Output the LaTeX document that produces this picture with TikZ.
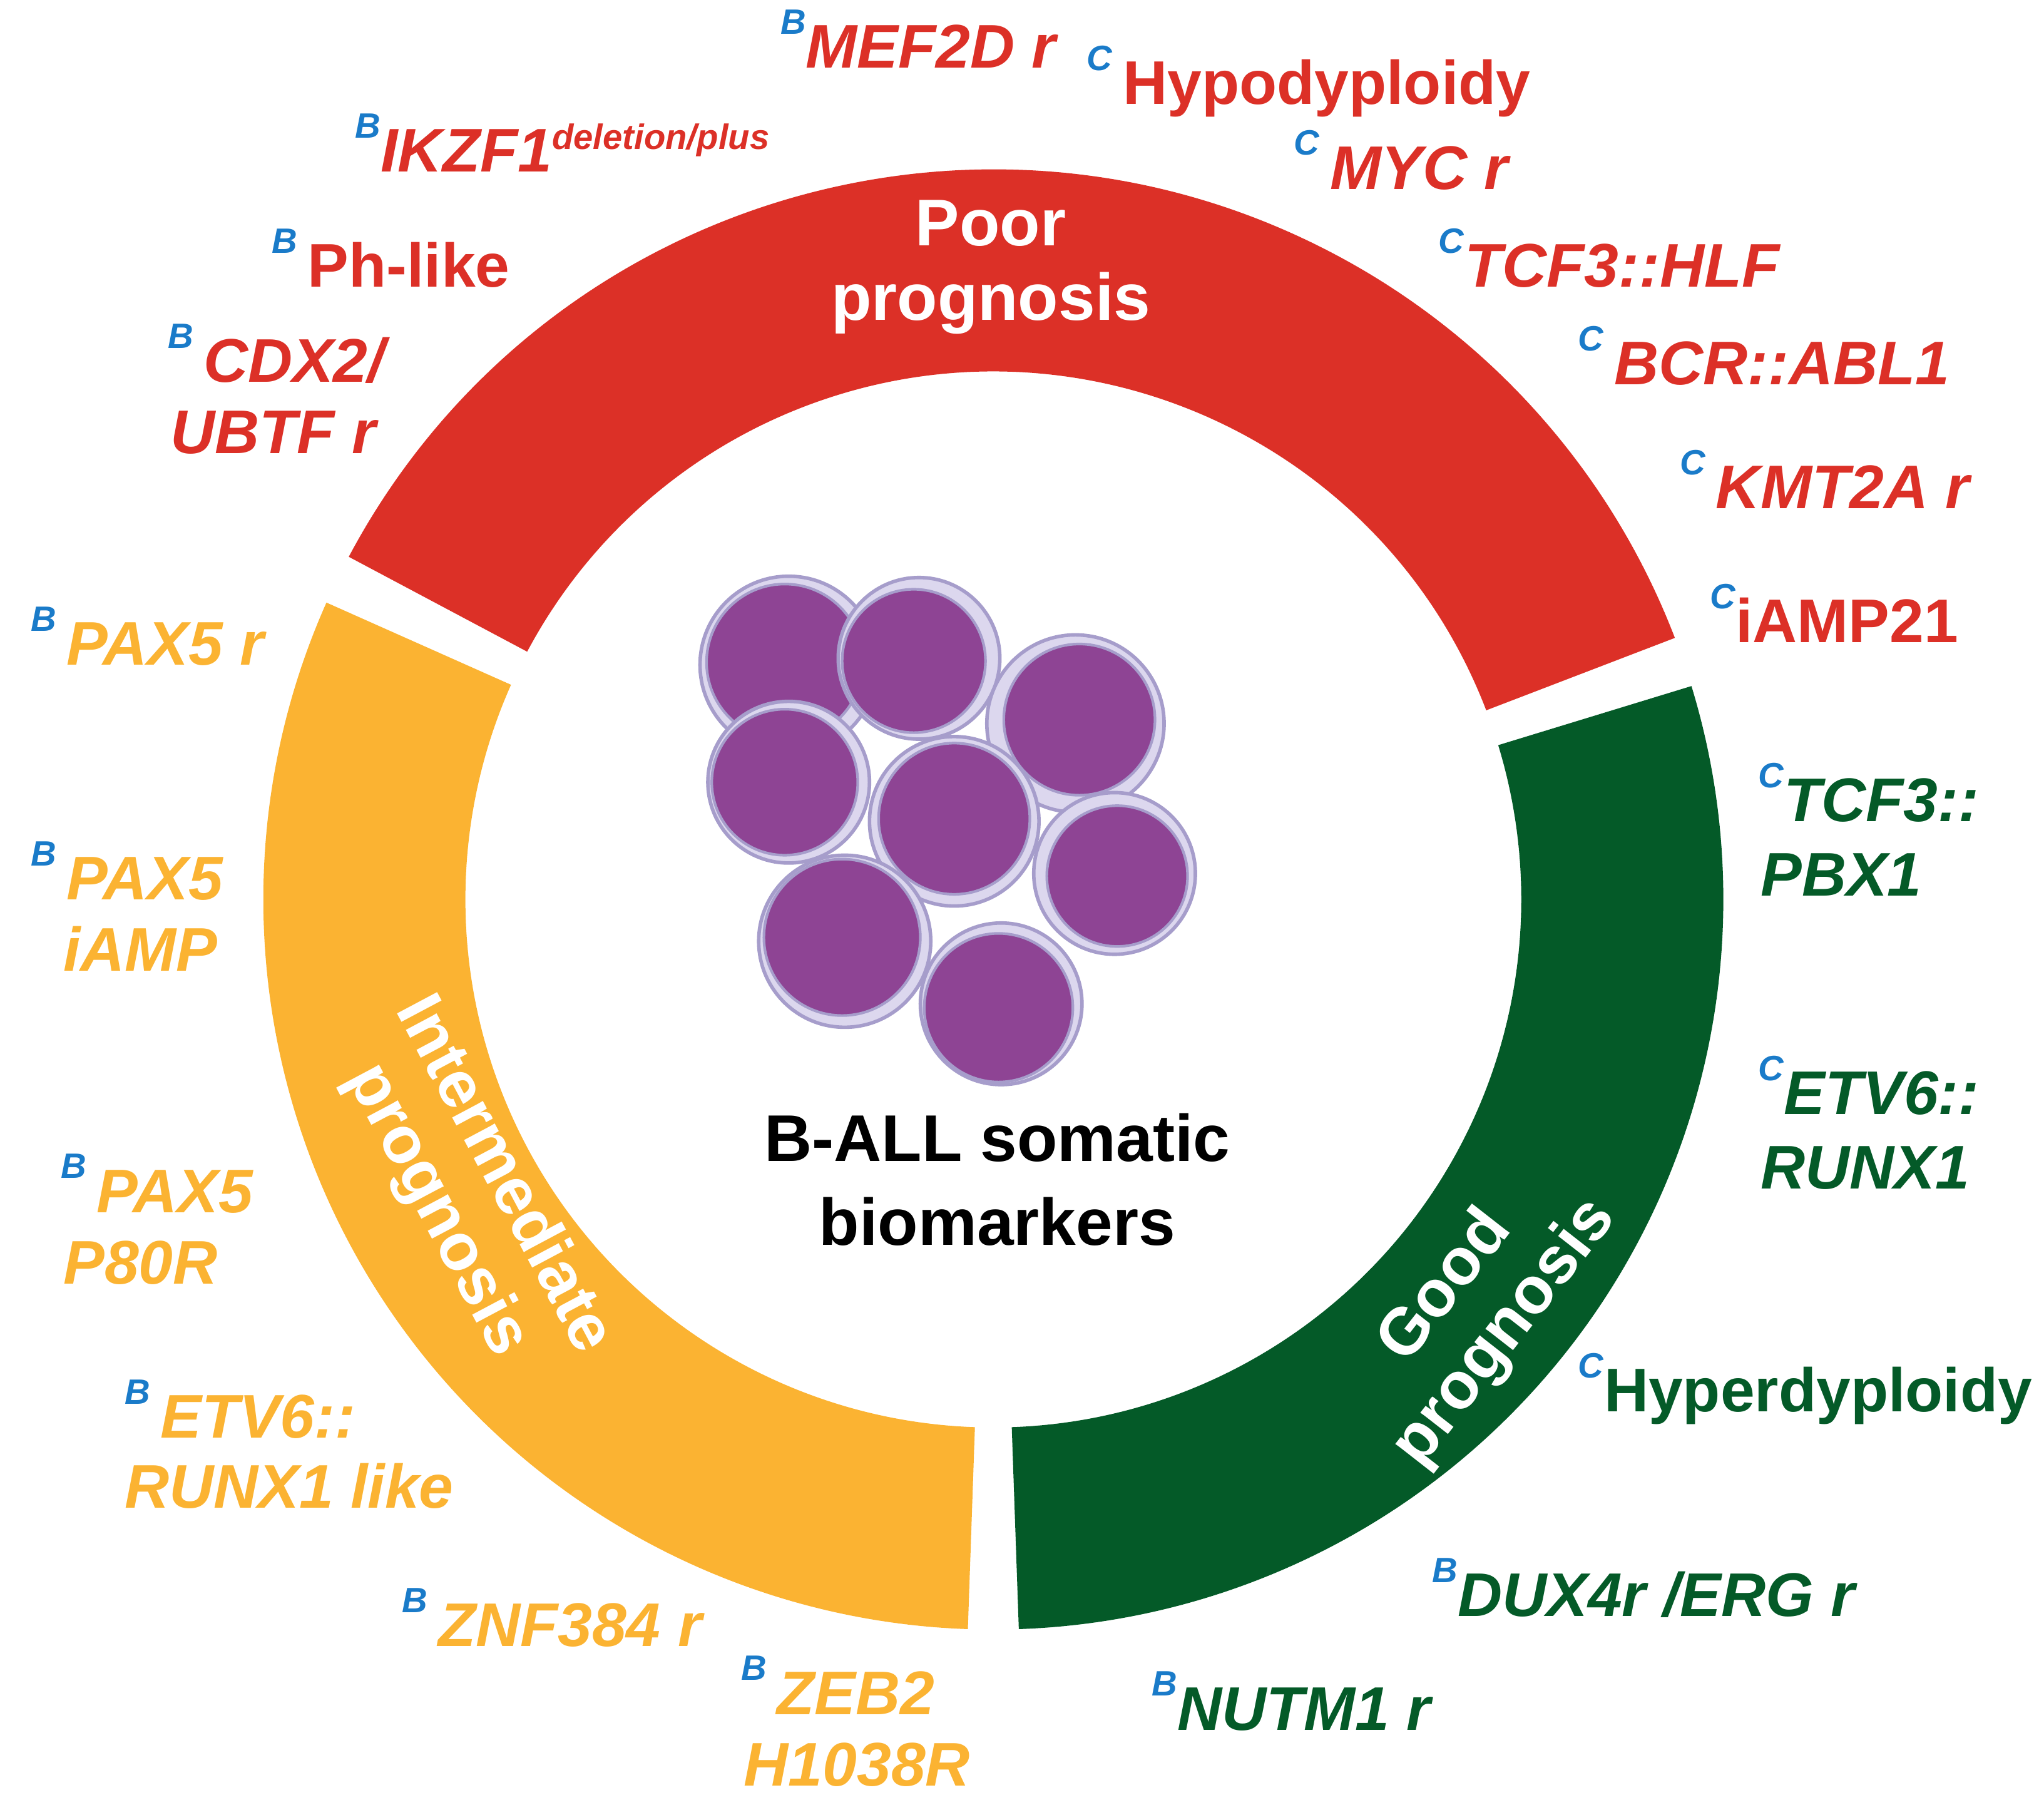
\documentclass[tikz,border=0pt]{standalone}
\usepackage{fontspec}
\setmainfont{Liberation Sans}
\usetikzlibrary{positioning}
\definecolor{poorred}{HTML}{DC3027}
\definecolor{midyel}{HTML}{FBB332}
\definecolor{goodgrn}{HTML}{045A28}
\definecolor{tagblue}{HTML}{1A7BC9}
\definecolor{nucl}{HTML}{8E4494}
\definecolor{halo}{HTML}{DCD7EE}
\definecolor{halodraw}{HTML}{A69DCB}
\newcommand{\tg}[1]{\raisebox{0.55em}{\textcolor{tagblue}{\fontsize{8}{8}\selectfont\textit{#1}}}}
\tikzset{
  lab/.style={anchor=base west,inner sep=0pt,font=\fontsize{14}{14}\selectfont\bfseries},
  cell/.style={fill=halo,draw=halodraw,line width=0.8pt},
  nucleus/.style={fill=nucl,draw=halodraw,line width=0.6pt},
}
\begin{document}
\begin{tikzpicture}[x=0.010414cm,y=-0.010414cm]
 \useasboundingbox (0,0) rectangle (1568,1392);

 % ring
 \begin{scope}[shift={(762,690)}]
  \fill[poorred] (-152:560) arc (-152:-21:560) -- (-21:405) arc (-21:-152:405) -- cycle;
  \fill[goodgrn] (-17:560) arc (-17:88:560) -- (88:405) arc (88:-17:405) -- cycle;
  \fill[midyel] (-156:560) arc (-156:-268:560) -- (-268:405) arc (-268:-156:405) -- cycle;
 \end{scope}

 \node[font=\fontsize{15}{17}\selectfont\bfseries,text=white,align=center] (poor) at (760,205) {Poor\\prognosis};
 \node[font=\fontsize{15}{17}\selectfont\bfseries,text=white,align=center,rotate=52] (good) at (1132,1005) {Good\\prognosis};
 \node[font=\fontsize{15}{17}\selectfont\bfseries,text=white,align=center,rotate=-62] (inter) at (360,915) {Intermediate\\prognosis};

 % cells
 \foreach \cx/\cy/\hr/\nr/\dx/\dy [count=\i] in
   {605/510/68/60/-3/-2, 705/505/62/55/-4/2, 825/555/68/58/3/-3, 605/600/62/56/-3/0,
    732/630/65/58/0/-2, 855/670/62/54/2/2, 648/722/66/60/-2/-3, 768/770/62/57/-2/3}
 {
  \fill[cell] (\cx,\cy) circle (\hr);
  \fill[nucleus] (\cx+\dx,\cy+\dy) circle (\nr);
 }
 \node[font=\fontsize{15}{19}\selectfont\bfseries,align=center] (title) at (765,905) {B-ALL somatic\\biomarkers};

 % poor
 \begin{scope}[every node/.append style={lab,text=poorred}]
  \node (mef)  at (598,52)  {\tg{B}\textit{MEF2D r}};
  \node (hypo) at (833,80)  {\tg{C}\,Hypodyploidy};
  \node (ikz)  at (272,132) {\tg{B}\textit{IKZF1}\textsuperscript{\fontsize{8}{8}\selectfont\textit{deletion/plus}}};
  \node (myc)  at (992,145) {\tg{C}\,\textit{MYC r}};
  \node (ph)   at (208,220) {\tg{B}\,Ph-like};
  \node (hlf)  at (1103,220){\tg{C}\textit{TCF3::HLF}};
  \node (cdx)  at (128,293) {\tg{B}\,\textit{CDX2/}};
  \node (ubtf) at (130,348) {\textit{UBTF r}};
  \node (bcr)  at (1210,295){\tg{C}\,\textit{BCR::ABL1}};
  \node (kmt)  at (1288,390){\tg{C}\,\textit{KMT2A r}};
  \node (iamp) at (1311,493){\tg{C}iAMP21};
 \end{scope}

 % good
 \begin{scope}[every node/.append style={lab,text=goodgrn}]
  \node (pbxa) at (1348,630) {\tg{C}\textit{TCF3::}};
  \node (pbxb) at (1350,687) {\textit{PBX1}};
  \node (etva) at (1348,855) {\tg{C}\textit{ETV6::}};
  \node (etvb) at (1350,912) {\textit{RUNX1}};
  \node (hyper) at (1210,1083) {\tg{C}Hyperdyploidy};
  \node (dux) at (1098,1240) {\tg{B}\textit{DUX4r /ERG r}};
  \node (nut) at (883,1327) {\tg{B}\textit{NUTM1 r}};
 \end{scope}

 % intermediate
 \begin{scope}[every node/.append style={lab,text=midyel}]
  \node (paxa) at (23,510) {\tg{B}\,\textit{PAX5 r}};
  \node (paxb) at (23,690) {\tg{B}\,\textit{PAX5}};
  \node (paxc) at (48,745) {\textit{iAMP}};
  \node (paxd) at (46,930) {\tg{B}\,\textit{PAX5}};
  \node (paxe) at (48,985) {\textit{P80R}};
  \node (etla) at (95,1103) {\tg{B}\,\textit{ETV6::}};
  \node (etlb) at (95,1157) {\textit{RUNX1 like}};
  \node (znf) at (308,1263) {\tg{B}\,\textit{ZNF384 r}};
  \node (zeba) at (568,1315) {\tg{B}\,\textit{ZEB2}};
  \node (zebb) at (570,1370) {\textit{H1038R}};
 \end{scope}
\end{tikzpicture}
\end{document}
